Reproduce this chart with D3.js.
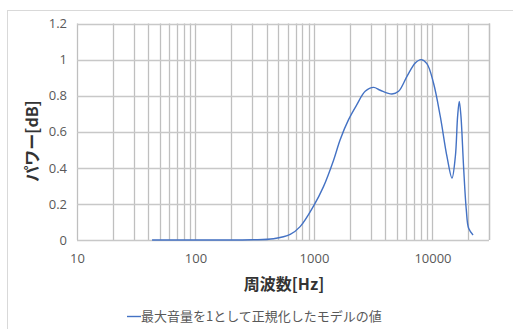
<!DOCTYPE html>
<html>
<head>
<meta charset="utf-8">
<script src="https://cdn.jsdelivr.net/npm/d3@7/dist/d3.min.js"></script>
<style>
  html, body { margin: 0; padding: 0; background: #fff; }
  svg { display: block; }
</style>
</head>
<body>
<svg id="chart" width="513" height="329"></svg>
<script>
// Normalised model response (max loudness = 1) versus frequency
const freqs = [43, 100, 200, 306, 455, 630, 764, 991, 1203, 1466, 1663, 1958, 2301, 2705, 3185,
  3624, 4550, 5175, 6095, 7160, 8000, 8970, 10200, 11640, 13250, 14610, 15600, 16300, 16840,
  17400, 18300, 19300, 20200, 22000];
const power = [0, 0, 0, 0.001, 0.007, 0.031, 0.074, 0.188, 0.296, 0.444, 0.556, 0.667, 0.75, 0.824, 0.846,
  0.83, 0.809, 0.824, 0.907, 0.981, 1.0, 0.978, 0.87, 0.685, 0.463, 0.343, 0.463, 0.685, 0.768,
  0.685, 0.407, 0.167, 0.065, 0.028];
const yTicks = [0, 0.2, 0.4, 0.6, 0.8, 1.0, 1.2];
const xDecades = [10, 100, 1000, 10000];
const seriesName = "最大音量を1として正規化したモデルの値";
const xTitle = "周波数[Hz]";
const yTitle = "パワー[dB]";

const svg = d3.select("#chart");
const W = 513, H = 329;
const plot = { left: 77, right: 489, top: 23.5, bottom: 240 };

const x = d3.scaleLog().domain([10, 30000]).range([plot.left, plot.right]);
const y = d3.scaleLinear().domain([0, 1.2]).range([plot.bottom, plot.top]);

// chart frame
svg.append("rect")
  .attr("x", 7.5).attr("y", 10.5).attr("width", W).attr("height", H)
  .attr("fill", "#fff").attr("stroke", "#d9d9d9").attr("stroke-width", 1);

// minor + major vertical gridlines (1..9 per decade)
const vLines = [];
for (let d = 10; d <= 10000; d *= 10) {
  for (let k = 1; k <= 9; k++) {
    const v = d * k;
    if (v >= 10 && v <= 30000) vLines.push(v);
  }
}
vLines.push(30000);

const grid = svg.append("g");
grid.selectAll("line.v").data(vLines).join("line")
  .attr("class", "v")
  .attr("x1", d => Math.round(x(d)) + 0.5).attr("x2", d => Math.round(x(d)) + 0.5)
  .attr("y1", plot.top).attr("y2", plot.bottom)
  .attr("stroke", "#bfbfbf").attr("stroke-width", 1.3);

grid.selectAll("line.h").data(yTicks).join("line")
  .attr("class", "h")
  .attr("x1", plot.left).attr("x2", plot.right)
  .attr("y1", d => Math.round(y(d)) + 0.5).attr("y2", d => Math.round(y(d)) + 0.5)
  .attr("stroke", "#c8c8c8").attr("stroke-width", 1.3);

// y axis labels
const yAxis = d3.axisLeft(y).tickValues(yTicks).tickSize(0).tickPadding(10)
  .tickFormat(d => d3.format("~g")(+d.toFixed(1)));
const yg = svg.append("g").attr("transform", `translate(${plot.left},0)`).call(yAxis);
yg.select(".domain").remove();
yg.selectAll("text")
  .attr("font-family", "'Open Sans', 'Noto Sans', sans-serif")
  .attr("font-size", 13).attr("fill", "#595959");

// x axis labels (decades)
const xAxis = d3.axisBottom(x).tickValues(xDecades).tickSize(0).tickPadding(14)
  .tickFormat(d3.format("d"));
const xg = svg.append("g").attr("transform", `translate(0,${plot.bottom})`).call(xAxis);
xg.select(".domain").remove();
xg.selectAll("text")
  .attr("font-family", "'Open Sans', 'Noto Sans', sans-serif")
  .attr("font-size", 13).attr("fill", "#595959");

// data line
const data = freqs.map((f, i) => ({ f, v: power[i] }));
const line = d3.line()
  .x(d => x(d.f)).y(d => y(d.v))
  .curve(d3.curveCatmullRom.alpha(0.5));
svg.append("path")
  .datum(data)
  .attr("d", line)
  .attr("fill", "none")
  .attr("stroke", "#4472c4")
  .attr("stroke-width", 1.4);

// axis titles
svg.append("text")
  .attr("x", 284).attr("y", 290)
  .attr("text-anchor", "middle")
  .attr("font-family", "'Noto Sans CJK JP', sans-serif")
  .attr("font-weight", "bold").attr("font-size", 16)
  .attr("fill", "#333333")
  .text(xTitle);

svg.append("text")
  .attr("transform", "translate(38,141) rotate(-90)")
  .attr("text-anchor", "middle")
  .attr("font-family", "'Noto Sans CJK JP', sans-serif")
  .attr("font-weight", "bold").attr("font-size", 16)
  .attr("fill", "#333333")
  .text(yTitle);

// legend
const lg = svg.append("g");
lg.append("line")
  .attr("x1", 127).attr("x2", 141).attr("y1", 316.5).attr("y2", 316.5)
  .attr("stroke", "#4472c4").attr("stroke-width", 1.4);
lg.append("text")
  .attr("x", 141).attr("y", 321)
  .attr("font-family", "'Noto Sans CJK JP', sans-serif")
  .attr("font-size", 13).attr("fill", "#595959")
  .text(seriesName);
</script>
</body>
</html>
